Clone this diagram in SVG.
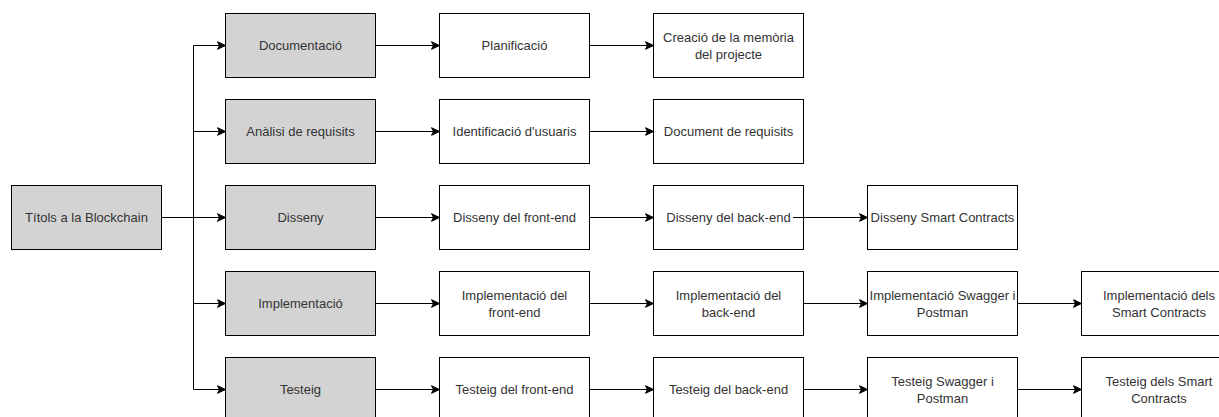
<svg xmlns="http://www.w3.org/2000/svg" width="1219" height="417" viewBox="0 0 1219 417">
<defs>
<marker id="arr" markerUnits="userSpaceOnUse" markerWidth="10" markerHeight="10" viewBox="0 0 10 10" refX="9" refY="5" orient="auto">
<path d="M1,1.2 L9,5 L1,8.8 L3,5 Z" fill="#000" stroke="#000" stroke-width="1"/>
</marker>
</defs>
<style>
.g{fill:#d3d3d3;stroke:#000;stroke-width:1}
.w{fill:#fff;stroke:#000;stroke-width:1}
text{font-family:"Liberation Sans",Arial,sans-serif;font-size:13px;fill:#333;text-anchor:middle}
.c{fill:none;stroke:#000;stroke-width:1}
</style>
<rect width="1219" height="417" fill="#fff"/>
<g id="connectors">
<path class="c" d="M161.5,217.5 H193.5"/>
<path class="c" d="M193.5,45.5 V389.5"/>
<path class="c" d="M193.5,45.5 H225.5" marker-end="url(#arr)"/>
<path class="c" d="M193.5,131.5 H225.5" marker-end="url(#arr)"/>
<path class="c" d="M193.5,217.5 H225.5" marker-end="url(#arr)"/>
<path class="c" d="M193.5,303.5 H225.5" marker-end="url(#arr)"/>
<path class="c" d="M193.5,389.5 H225.5" marker-end="url(#arr)"/>
<path class="c" d="M375.5,45.5 H439.5" marker-end="url(#arr)"/>
<path class="c" d="M375.5,131.5 H439.5" marker-end="url(#arr)"/>
<path class="c" d="M375.5,217.5 H439.5" marker-end="url(#arr)"/>
<path class="c" d="M375.5,303.5 H439.5" marker-end="url(#arr)"/>
<path class="c" d="M375.5,389.5 H439.5" marker-end="url(#arr)"/>
<path class="c" d="M589.5,45.5 H653.5" marker-end="url(#arr)"/>
<path class="c" d="M589.5,131.5 H653.5" marker-end="url(#arr)"/>
<path class="c" d="M589.5,217.5 H653.5" marker-end="url(#arr)"/>
<path class="c" d="M589.5,303.5 H653.5" marker-end="url(#arr)"/>
<path class="c" d="M589.5,389.5 H653.5" marker-end="url(#arr)"/>
<path class="c" d="M803.5,303.5 H867.5" marker-end="url(#arr)"/>
<path class="c" d="M803.5,389.5 H867.5" marker-end="url(#arr)"/>
<path class="c" d="M1017.5,303.5 H1081.5" marker-end="url(#arr)"/>
<path class="c" d="M1017.5,389.5 H1081.5" marker-end="url(#arr)"/>
</g>
<g id="n-titols"><rect class="g" x="11.5" y="185.5" width="150" height="64"/><text x="86.5" y="222">Títols a la Blockchain</text></g>
<g id="n-doc"><rect class="g" x="225.5" y="13.5" width="150" height="64"/><text x="300.5" y="50">Documentació</text></g>
<g id="n-anal"><rect class="g" x="225.5" y="99.5" width="150" height="64"/><text x="300.5" y="136">Anàlisi de requisits</text></g>
<g id="n-dis"><rect class="g" x="225.5" y="185.5" width="150" height="64"/><text x="300.5" y="222">Disseny</text></g>
<g id="n-impl"><rect class="g" x="225.5" y="271.5" width="150" height="64"/><text x="300.5" y="308">Implementació</text></g>
<g id="n-test"><rect class="g" x="225.5" y="357.5" width="150" height="64"/><text x="300.5" y="394">Testeig</text></g>
<g id="n-plan"><rect class="w" x="439.5" y="13.5" width="150" height="64"/><text x="514.5" y="50">Planificació</text></g>
<g id="n-mem"><rect class="w" x="653.5" y="13.5" width="150" height="64"/><text x="728.5" y="41.5">Creació de la memòria</text><text x="728.5" y="58.5">del projecte</text></g>
<g id="n-idu"><rect class="w" x="439.5" y="99.5" width="150" height="64"/><text x="514.5" y="136">Identificació d'usuaris</text></g>
<g id="n-docr"><rect class="w" x="653.5" y="99.5" width="150" height="64"/><text x="728.5" y="136">Document de requisits</text></g>
<g id="n-dfe"><rect class="w" x="439.5" y="185.5" width="150" height="64"/><text x="514.5" y="222">Disseny del front-end</text></g>
<g id="n-dbe"><rect class="w" x="653.5" y="185.5" width="150" height="64"/><text x="728.5" y="222">Disseny del back-end</text></g>
<g id="n-dsc"><rect class="w" x="867.5" y="185.5" width="150" height="64"/><text x="942.5" y="222">Disseny Smart Contracts</text></g>
<g id="n-ife"><rect class="w" x="439.5" y="271.5" width="150" height="64"/><text x="514.5" y="299.5">Implementació del</text><text x="514.5" y="316.5">front-end</text></g>
<g id="n-ibe"><rect class="w" x="653.5" y="271.5" width="150" height="64"/><text x="728.5" y="299.5">Implementació del</text><text x="728.5" y="316.5">back-end</text></g>
<g id="n-isp"><rect class="w" x="867.5" y="271.5" width="150" height="64"/><text x="942.5" y="299.5">Implementació Swagger i</text><text x="942.5" y="316.5">Postman</text></g>
<g id="n-isc"><rect class="w" x="1081.5" y="271.5" width="150" height="64"/><text x="1159" y="299.5">Implementació dels</text><text x="1159" y="316.5">Smart Contracts</text></g>
<g id="n-tfe"><rect class="w" x="439.5" y="357.5" width="150" height="64"/><text x="514.5" y="394">Testeig del front-end</text></g>
<g id="n-tbe"><rect class="w" x="653.5" y="357.5" width="150" height="64"/><text x="728.5" y="394">Testeig del back-end</text></g>
<g id="n-tsp"><rect class="w" x="867.5" y="357.5" width="150" height="64"/><text x="942.5" y="385.5">Testeig Swagger i</text><text x="942.5" y="402.5">Postman</text></g>
<g id="n-tsc"><rect class="w" x="1081.5" y="357.5" width="150" height="64"/><text x="1159" y="385.5">Testeig dels Smart</text><text x="1159" y="402.5">Contracts</text></g>
<g id="connectors-top">
<path class="c" d="M793,217.5 H867.5" marker-end="url(#arr)"/>
</g>
</svg>
